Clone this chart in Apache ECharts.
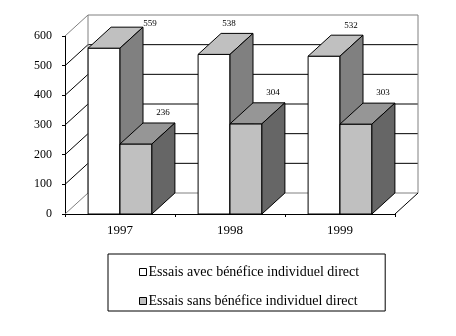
<!DOCTYPE html>
<html>
<head>
<meta charset="utf-8">
<script src="https://cdn.jsdelivr.net/npm/echarts@6/dist/echarts.min.js"></script>
<style>
  html, body { margin: 0; padding: 0; background: #ffffff; }
  #chart { width: 456px; height: 336px; }
</style>
</head>
<body>
<div id="chart"></div>
<script>
// Essais avec / sans bénéfice individuel direct, 1997–1999
const years = ['1997', '1998', '1999'];
const avecBenefice = [559, 538, 532];
const sansBenefice = [236, 304, 303];
const seriesNames = [
  'Essais avec bénéfice individuel direct',
  'Essais sans bénéfice individuel direct'
];
const yTicks = [0, 100, 200, 300, 400, 500, 600];

// pseudo-3D depth of the plot box and of each column
const DEPTH_X = 23;
const DEPTH_Y = -21;
const FONT = '"Liberation Serif", "Times New Roman", serif';

// face colours: front, top, side
const faces = [
  { front: '#ffffff', top: '#c0c0c0', side: '#808080' },
  { front: '#c0c0c0', top: '#969696', side: '#666666' }
];
// small label shifts so value labels do not collide with the box edges
const labelShift = [
  [[19, 6], [-12, 0], [0, 0]],
  [[0, 0], [0, 0], [0, 0]]
];

function line(x1, y1, x2, y2, color) {
  return {
    type: 'line',
    shape: { x1: x1, y1: y1, x2: x2, y2: y2 },
    style: { stroke: color, lineWidth: 1 }
  };
}

// back wall, side wall and floor edge of the 3D box
function renderWalls(params, api) {
  const cs = params.coordSys;
  const left = cs.x;
  const right = cs.x + cs.width;
  const children = [];
  const yMin = api.coord([0, yTicks[0]])[1];
  const yMax = api.coord([0, yTicks[yTicks.length - 1]])[1];
  yTicks.forEach(function (v, i) {
    const y = api.coord([0, v])[1];
    const edge = (i === 0 || i === yTicks.length - 1);
    const c = edge ? '#808080' : '#000000';
    children.push(line(left + DEPTH_X, y + DEPTH_Y, right + DEPTH_X, y + DEPTH_Y, c));
    children.push(line(left, y, left + DEPTH_X, y + DEPTH_Y, c));
  });
  children.push(line(left + DEPTH_X, yMin + DEPTH_Y, left + DEPTH_X, yMax + DEPTH_Y, '#808080'));
  children.push(line(right + DEPTH_X, yMin + DEPTH_Y, right + DEPTH_X, yMax + DEPTH_Y, '#808080'));
  children.push(line(right, yMin, right + DEPTH_X, yMin + DEPTH_Y, '#000000'));
  return { type: 'group', children: children };
}

function makeBarRenderer(sIdx) {
  return function (params, api) {
    const cat = api.value(0);
    const val = api.value(1);
    const band = api.size([1, 0])[0];
    const w = band * 0.29;
    const base = api.coord([cat, 0]);
    const x0 = base[0] - w + sIdx * w;
    const x1 = x0 + w;
    const yb = base[1];
    const yt = api.coord([cat, val])[1];
    const f = faces[sIdx];
    const stroke = { stroke: '#000000', lineWidth: 1 };
    const shift = labelShift[sIdx][params.dataIndex];
    return {
      type: 'group',
      children: [
        {
          type: 'rect',
          shape: { x: x0, y: yt, width: w, height: yb - yt },
          style: Object.assign({ fill: f.front }, stroke)
        },
        {
          type: 'polygon',
          shape: { points: [[x0, yt], [x1, yt], [x1 + DEPTH_X, yt + DEPTH_Y], [x0 + DEPTH_X, yt + DEPTH_Y]] },
          style: Object.assign({ fill: f.top }, stroke)
        },
        {
          type: 'polygon',
          shape: { points: [[x1, yt], [x1 + DEPTH_X, yt + DEPTH_Y], [x1 + DEPTH_X, yb + DEPTH_Y], [x1, yb]] },
          style: Object.assign({ fill: f.side }, stroke)
        },
        {
          type: 'text',
          x: (x0 + x1) / 2 + DEPTH_X + 4 + shift[0],
          y: yt + DEPTH_Y - 10 + shift[1],
          style: {
            text: String(val),
            fill: '#000000',
            font: '9px ' + FONT,
            textAlign: 'center',
            textVerticalAlign: 'middle'
          }
        }
      ]
    };
  };
}

const chart = echarts.init(document.getElementById('chart'), null, { renderer: 'canvas' });

chart.setOption({
  animation: false,
  backgroundColor: '#ffffff',
  textStyle: { fontFamily: FONT },
  grid: { left: 65, right: 61, top: 36, bottom: 122 },
  xAxis: {
    type: 'category',
    data: years,
    boundaryGap: true,
    axisLine: { lineStyle: { color: '#000000', width: 1 } },
    axisTick: { show: true, length: 3, lineStyle: { color: '#000000' } },
    axisLabel: { color: '#000000', fontSize: 13, fontFamily: FONT, margin: 10 },
    splitLine: { show: false }
  },
  yAxis: {
    type: 'value',
    min: 0,
    max: 600,
    interval: 100,
    axisLine: { show: true, lineStyle: { color: '#000000', width: 1 } },
    axisTick: { show: true, length: 3, lineStyle: { color: '#000000' } },
    axisLabel: { color: '#000000', fontSize: 12, fontFamily: FONT, margin: 13 },
    splitLine: { show: false }
  },
  legend: {
    data: seriesNames,
    orient: 'vertical',
    left: 108,
    top: 254,
    padding: [11, 26, 3, 31],
    itemGap: 15,
    itemWidth: 7,
    itemHeight: 7,
    icon: 'rect',
    borderColor: '#000000',
    borderWidth: 1,
    itemStyle: { borderColor: '#000000', borderWidth: 1 },
    textStyle: { color: '#000000', fontSize: 14, fontFamily: FONT, padding: [0, 0, 0, -3] }
  },
  series: [
    {
      type: 'custom',
      name: 'box',
      coordinateSystem: 'cartesian2d',
      renderItem: renderWalls,
      data: [[0, 0]],
      encode: { x: 0, y: 1 },
      z: 1,
      silent: true
    },
    {
      type: 'custom',
      name: seriesNames[0],
      coordinateSystem: 'cartesian2d',
      renderItem: makeBarRenderer(0),
      data: years.map(function (y, i) { return [i, avecBenefice[i]]; }),
      encode: { x: 0, y: 1 },
      itemStyle: { color: faces[0].front },
      z: 2
    },
    {
      type: 'custom',
      name: seriesNames[1],
      coordinateSystem: 'cartesian2d',
      renderItem: makeBarRenderer(1),
      data: years.map(function (y, i) { return [i, sansBenefice[i]]; }),
      encode: { x: 0, y: 1 },
      itemStyle: { color: faces[1].front },
      z: 3
    }
  ]
});
</script>
</body>
</html>
